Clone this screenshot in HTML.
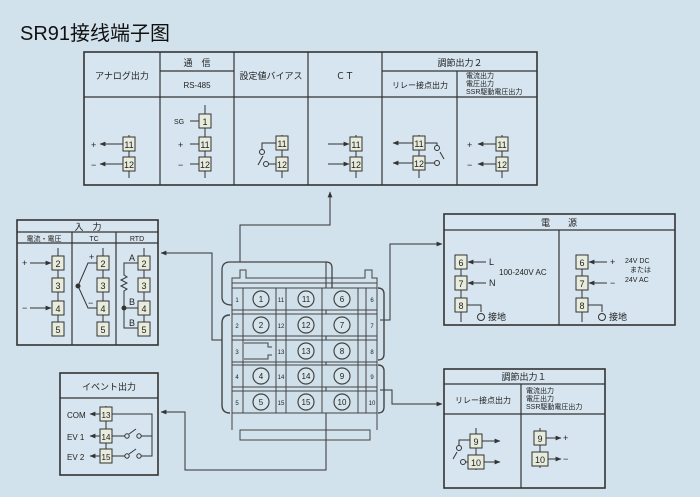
<!DOCTYPE html>
<html><head><meta charset="utf-8"><style>
html,body{margin:0;padding:0;background:#d2e2ed;}
svg{display:block;font-family:"Liberation Sans","Noto Sans CJK JP",sans-serif;}
</style></head><body>
<svg width="700" height="497" viewBox="0 0 700 497" xmlns="http://www.w3.org/2000/svg">
<defs>
<marker id="a" viewBox="0 0 10 10" refX="9" refY="5" markerWidth="6" markerHeight="6" orient="auto-start-reverse"><path d="M0,1 L10,5 L0,9 z" fill="#333"/></marker>
</defs>
<rect width="700" height="497" fill="#d2e2ed"/>
<text x="20" y="40" font-size="20" fill="#111">SR91接线端子图</text>

<g stroke="#333" fill="none" stroke-width="1.2">
<rect x="84" y="52" width="453" height="133" fill="#d6e5ef" stroke-width="1.6"/>
<line x1="84" y1="97" x2="537" y2="97"/>
<line x1="160" y1="71" x2="234" y2="71"/><line x1="382" y1="71" x2="537" y2="71"/>
<line x1="160" y1="52" x2="160" y2="185"/><line x1="234" y1="52" x2="234" y2="185"/>
<line x1="308" y1="52" x2="308" y2="185"/><line x1="382" y1="52" x2="382" y2="185"/>
<line x1="457" y1="71" x2="457" y2="185"/>
</g>
<g font-size="9" fill="#222" text-anchor="middle">
<text x="122" y="79">アナログ出力</text>
<text x="197" y="66">通　信</text><text x="197" y="88" font-size="8">RS-485</text>
<text x="271" y="79">設定値バイアス</text>
<text x="345" y="79">ＣＴ</text>
<text x="460" y="66">調節出力２</text>
<text x="420" y="88" font-size="8">リレー接点出力</text>
</g>
<g font-size="7" fill="#222">
<text x="466" y="78">電流出力</text>
<text x="466" y="86">電圧出力</text>
<text x="466" y="94">SSR駆動電圧出力</text>
</g>
<g stroke="#333" fill="none" stroke-width="1">
<line x1="129" y1="135" x2="129" y2="178"/>
<line x1="100" y1="144" x2="123" y2="144" marker-start="url(#a)"/><line x1="100" y1="164" x2="123" y2="164" marker-start="url(#a)"/>
<line x1="205" y1="105" x2="205" y2="178"/>
<line x1="190" y1="121" x2="199" y2="121"/><line x1="190" y1="144" x2="199" y2="144"/><line x1="190" y1="164" x2="199" y2="164"/>
<line x1="282" y1="135" x2="282" y2="178"/>
<path d="M276,143 H262 V150"/><circle cx="262" cy="152" r="2.5"/><line x1="258" y1="165" x2="263" y2="156"/>
<path d="M276,164 H268"/><circle cx="266" cy="164" r="2.5"/>
<line x1="356" y1="135" x2="356" y2="178"/>
<line x1="328" y1="144" x2="349" y2="144" marker-end="url(#a)"/><line x1="328" y1="164" x2="349" y2="164" marker-end="url(#a)"/>
<line x1="419" y1="135" x2="419" y2="178"/>
<line x1="393" y1="143" x2="413" y2="143" marker-start="url(#a)"/><line x1="393" y1="163" x2="413" y2="163" marker-start="url(#a)"/>
<path d="M425,143 H437 V146"/><circle cx="437" cy="148" r="2.5"/><line x1="440" y1="152" x2="444" y2="159"/>
<path d="M425,163 H435"/><circle cx="437" cy="163" r="2.5"/>
<line x1="502" y1="135" x2="502" y2="178"/>
<line x1="478" y1="144" x2="496" y2="144" marker-start="url(#a)"/><line x1="478" y1="164" x2="496" y2="164" marker-start="url(#a)"/>
</g>
<g font-size="9" fill="#222">
<g stroke="#333" fill="#e8ecdc" stroke-width="1">
<rect x="123" y="137" width="12" height="14"/><rect x="123" y="157" width="12" height="14"/>
<rect x="199" y="114" width="12" height="14"/><rect x="199" y="137" width="12" height="14"/><rect x="199" y="157" width="12" height="14"/>
<rect x="276" y="136" width="12" height="14"/><rect x="276" y="157" width="12" height="14"/>
<rect x="350" y="137" width="12" height="14"/><rect x="350" y="157" width="12" height="14"/>
<rect x="413" y="136" width="12" height="14"/><rect x="413" y="156" width="12" height="14"/>
<rect x="496" y="137" width="12" height="14"/><rect x="496" y="157" width="12" height="14"/>
</g>
<g text-anchor="middle" font-size="9">
<text x="129" y="148">11</text><text x="129" y="168">12</text>
<text x="205" y="125">1</text><text x="205" y="148">11</text><text x="205" y="168">12</text>
<text x="282" y="147">11</text><text x="282" y="168">12</text>
<text x="356" y="148">11</text><text x="356" y="168">12</text>
<text x="419" y="147">11</text><text x="419" y="167">12</text>
<text x="502" y="148">11</text><text x="502" y="168">12</text>
</g>
<text x="91" y="148">+</text><text x="91" y="168">−</text>
<text x="174" y="124" font-size="7">SG</text><text x="178" y="148">+</text><text x="178" y="168">−</text>
<text x="467" y="148">+</text><text x="467" y="168">−</text>
</g>

<g stroke="#333" fill="none" stroke-width="1">
<path d="M240,262 V225 H330 V192" marker-end="url(#a)"/>
<path d="M380,320 H390 V244 H442" marker-end="url(#a)"/>
<path d="M380,390 H392 V404 H442" marker-end="url(#a)"/>
<path d="M222,340 H212 V253 H161" marker-end="url(#a)"/>
<path d="M326,262 V470 H185 V412 H161" marker-end="url(#a)"/>
</g>

<g stroke="#444" fill="none" stroke-width="1">
<path d="M232,430 V278 H240 V270 H246 V278 H365 V270 H372 V278 H377 V430"/>
<path d="M232,305 q-10,0 -10,-8 V270 q0,-8 8,-8 H326 q6,0 6,6 V290" stroke-width="1.3"/>
<path d="M230,315 q-8,0 -8,8 V405 q0,8 8,8" stroke-width="1.4"/>
<path d="M378,288 q6,0 6,6 V354 q0,6 -6,6" stroke-width="1.4"/>
<path d="M378,365 q6,0 6,6 V407 q0,6 -6,6" stroke-width="1.4"/>
<line x1="232" y1="283" x2="377" y2="283"/>
<g fill="#cfe0ea">
<rect x="232" y="288" width="145" height="22"/><rect x="232" y="314" width="145" height="22"/>
<rect x="232" y="340" width="145" height="22"/><rect x="232" y="365" width="145" height="22"/>
<rect x="232" y="391" width="145" height="22"/>
</g>
<g>
<line x1="243" y1="288" x2="243" y2="413"/><line x1="276" y1="288" x2="276" y2="413"/>
<line x1="286" y1="288" x2="286" y2="413"/><line x1="322" y1="288" x2="322" y2="413"/>
<line x1="358" y1="288" x2="358" y2="413"/><line x1="366" y1="288" x2="366" y2="413"/>
</g>
<g stroke-width="1.2" fill="#d6e4ec">
<circle cx="261" cy="299" r="8"/><circle cx="261" cy="325" r="8"/><circle cx="261" cy="376" r="8"/><circle cx="261" cy="402" r="8"/>
<circle cx="306" cy="299" r="8"/><circle cx="306" cy="325" r="8"/><circle cx="306" cy="351" r="8"/><circle cx="306" cy="376" r="8"/><circle cx="306" cy="402" r="8"/>
<circle cx="342" cy="299" r="8"/><circle cx="342" cy="325" r="8"/><circle cx="342" cy="351" r="8"/><circle cx="342" cy="376" r="8"/><circle cx="342" cy="402" r="8"/>
</g>
<path d="M244,343 H268 V347 H272"/><path d="M244,359 H268 V355 H272"/>
<rect x="240" y="430" width="130" height="10"/>
</g>
<g font-size="8" fill="#222" text-anchor="middle">
<text x="261" y="302">1</text><text x="261" y="328">2</text><text x="261" y="379">4</text><text x="261" y="405">5</text>
<text x="306" y="302">11</text><text x="306" y="328">12</text><text x="306" y="354">13</text><text x="306" y="379">14</text><text x="306" y="405">15</text>
<text x="342" y="302">6</text><text x="342" y="328">7</text><text x="342" y="354">8</text><text x="342" y="379">9</text><text x="342" y="405">10</text>
<g font-size="6"><text x="237" y="302">1</text><text x="237" y="328">2</text><text x="237" y="354">3</text><text x="237" y="379">4</text><text x="237" y="405">5</text>
<text x="281" y="302">11</text><text x="281" y="328">12</text><text x="281" y="354">13</text><text x="281" y="379">14</text><text x="281" y="405">15</text>
<text x="372" y="302">6</text><text x="372" y="328">7</text><text x="372" y="354">8</text><text x="372" y="379">9</text><text x="372" y="405">10</text></g>
</g>

<g stroke="#333" fill="none" stroke-width="1.2">
<rect x="17" y="220" width="141" height="125" fill="#d6e5ef" stroke-width="1.6"/>
<line x1="17" y1="232" x2="158" y2="232"/><line x1="17" y1="243" x2="158" y2="243"/>
<line x1="72" y1="232" x2="72" y2="345"/><line x1="116" y1="232" x2="116" y2="345"/>
</g>
<g font-size="8" fill="#222" text-anchor="middle">
<text x="88" y="230" font-size="9">入　力</text>
<text x="44" y="241" font-size="7">電流・電圧</text><text x="94" y="241" font-size="7">TC</text><text x="137" y="241" font-size="7">RTD</text>
</g>
<g stroke="#333" fill="none" stroke-width="1">
<line x1="58" y1="248" x2="58" y2="335"/><line x1="103" y1="248" x2="103" y2="335"/><line x1="144" y1="248" x2="144" y2="335"/>
<line x1="30" y1="263" x2="51" y2="263" marker-end="url(#a)"/><line x1="30" y1="308" x2="51" y2="308" marker-end="url(#a)"/>
<path d="M97,263 H88 L78,286 L88,308 H97"/><circle cx="78" cy="286" r="2" fill="#333"/>
<path d="M138,263 H124 V275 l3,2 -6,3 6,3 -6,3 6,3 -3,2 V308 M124,298 V328 H138 M124,308 H138"/><circle cx="124" cy="308" r="2" fill="#333"/>
</g>
<g font-size="9" fill="#222">
<g stroke="#333" fill="#e8ecdc" stroke-width="1">
<rect x="52" y="256" width="12" height="14"/><rect x="52" y="278" width="12" height="14"/><rect x="52" y="301" width="12" height="14"/><rect x="52" y="322" width="12" height="14"/>
<rect x="97" y="256" width="12" height="14"/><rect x="97" y="278" width="12" height="14"/><rect x="97" y="301" width="12" height="14"/><rect x="97" y="322" width="12" height="14"/>
<rect x="138" y="256" width="12" height="14"/><rect x="138" y="278" width="12" height="14"/><rect x="138" y="301" width="12" height="14"/><rect x="138" y="322" width="12" height="14"/>
</g>
<g text-anchor="middle">
<text x="58" y="267">2</text><text x="58" y="289">3</text><text x="58" y="312">4</text><text x="58" y="333">5</text>
<text x="103" y="267">2</text><text x="103" y="289">3</text><text x="103" y="312">4</text><text x="103" y="333">5</text>
<text x="144" y="267">2</text><text x="144" y="289">3</text><text x="144" y="312">4</text><text x="144" y="333">5</text>
</g>
<text x="22" y="266">+</text><text x="22" y="311">−</text>
<text x="89" y="260">+</text><text x="88" y="306">−</text>
<text x="129" y="261">A</text><text x="129" y="305">B</text><text x="129" y="326">B</text>
</g>

<g stroke="#333" fill="none" stroke-width="1.2">
<rect x="60" y="373" width="98" height="102" fill="#d6e5ef" stroke-width="1.6"/>
<line x1="60" y1="398" x2="158" y2="398"/>
</g>
<text x="109" y="390" font-size="9" fill="#222" text-anchor="middle">イベント出力</text>
<g stroke="#333" fill="none" stroke-width="1">
<line x1="106" y1="406" x2="106" y2="462"/>
<line x1="90" y1="414" x2="100" y2="414" marker-start="url(#a)"/><line x1="90" y1="436" x2="100" y2="436" marker-start="url(#a)"/><line x1="90" y1="456" x2="100" y2="456" marker-start="url(#a)"/>
<path d="M112,414 H152 V456 H141"/>
<path d="M112,436 H125"/><circle cx="127" cy="436" r="2.2"/><line x1="129" y1="434" x2="136" y2="429"/><circle cx="139" cy="436" r="2.2"/><line x1="141" y1="436" x2="152" y2="436"/>
<path d="M112,456 H125"/><circle cx="127" cy="456" r="2.2"/><line x1="129" y1="454" x2="136" y2="449"/><circle cx="139" cy="456" r="2.2"/>
</g>
<g font-size="9" fill="#222">
<g stroke="#333" fill="#e8ecdc" stroke-width="1">
<rect x="100" y="407" width="12" height="14"/><rect x="100" y="429" width="12" height="14"/><rect x="100" y="449" width="12" height="14"/>
</g>
<g text-anchor="middle" font-size="8"><text x="106" y="418">13</text><text x="106" y="440">14</text><text x="106" y="460">15</text></g>
<text x="67" y="418" font-size="8">COM</text><text x="67" y="440" font-size="8">EV 1</text><text x="67" y="460" font-size="8">EV 2</text>
</g>

<g stroke="#333" fill="none" stroke-width="1.2">
<rect x="444" y="214" width="231" height="111" fill="#d6e5ef" stroke-width="1.6"/>
<line x1="444" y1="230" x2="675" y2="230"/><line x1="559" y1="230" x2="559" y2="325"/>
</g>
<text x="559" y="226" font-size="9" fill="#222" text-anchor="middle">電　　源</text>
<g stroke="#333" fill="none" stroke-width="1">
<line x1="461" y1="255" x2="461" y2="322"/><line x1="582" y1="255" x2="582" y2="322"/>
<line x1="468" y1="262" x2="486" y2="262" marker-start="url(#a)"/><line x1="468" y1="283" x2="486" y2="283" marker-start="url(#a)"/>
<path d="M467,305 H481 V312"/><circle cx="481" cy="317" r="3.5"/>
<line x1="589" y1="262" x2="607" y2="262" marker-start="url(#a)"/><line x1="589" y1="283" x2="607" y2="283" marker-start="url(#a)"/>
<path d="M588,305 H602 V312"/><circle cx="602" cy="317" r="3.5"/>
</g>
<g font-size="9" fill="#222">
<g stroke="#333" fill="#e8ecdc" stroke-width="1">
<rect x="455" y="255" width="12" height="14"/><rect x="455" y="276" width="12" height="14"/><rect x="455" y="298" width="12" height="14"/>
<rect x="576" y="255" width="12" height="14"/><rect x="576" y="276" width="12" height="14"/><rect x="576" y="298" width="12" height="14"/>
</g>
<g text-anchor="middle"><text x="461" y="266">6</text><text x="461" y="287">7</text><text x="461" y="309">8</text>
<text x="582" y="266">6</text><text x="582" y="287">7</text><text x="582" y="309">8</text></g>
<text x="489" y="265">L</text><text x="489" y="286">N</text>
<text x="499" y="275" font-size="8">100-240V AC</text>
<text x="488" y="320" font-size="9">接地</text><text x="609" y="320" font-size="9">接地</text>
<text x="610" y="265">+</text><text x="610" y="286">−</text>
<g font-size="7"><text x="625" y="263">24V DC</text><text x="630" y="272">または</text><text x="625" y="282">24V AC</text></g>
</g>

<g stroke="#333" fill="none" stroke-width="1.2">
<rect x="444" y="369" width="161" height="119" fill="#d6e5ef" stroke-width="1.6"/>
<line x1="444" y1="384" x2="605" y2="384"/><line x1="444" y1="414" x2="605" y2="414"/>
<line x1="521" y1="384" x2="521" y2="488"/>
</g>
<g font-size="9" fill="#222">
<text x="524" y="380" text-anchor="middle">調節出力１</text>
<text x="455" y="403" font-size="8">リレー接点出力</text>
<g font-size="7"><text x="526" y="393">電流出力</text><text x="526" y="401">電圧出力</text><text x="526" y="409">SSR駆動電圧出力</text></g>
</g>
<g stroke="#333" fill="none" stroke-width="1">
<line x1="476" y1="428" x2="476" y2="470"/><line x1="540" y1="428" x2="540" y2="468"/>
<line x1="482" y1="441" x2="500" y2="441" marker-end="url(#a)"/><line x1="484" y1="462" x2="500" y2="462" marker-end="url(#a)"/>
<path d="M470,440 H459 V445"/><circle cx="459" cy="448" r="2.5"/><line x1="457" y1="452" x2="453" y2="459"/>
<path d="M468,462 H466"/><circle cx="463" cy="462" r="2.5"/>
<line x1="546" y1="438" x2="561" y2="438" marker-end="url(#a)"/><line x1="548" y1="459" x2="561" y2="459" marker-end="url(#a)"/>
</g>
<g font-size="9" fill="#222">
<g stroke="#333" fill="#e8ecdc" stroke-width="1">
<rect x="470" y="434" width="12" height="14"/><rect x="468" y="455" width="16" height="14"/>
<rect x="534" y="431" width="12" height="14"/><rect x="532" y="452" width="16" height="14"/>
</g>
<g text-anchor="middle"><text x="476" y="445">9</text><text x="476" y="466">10</text><text x="540" y="442">9</text><text x="540" y="463">10</text></g>
<text x="563" y="441">+</text><text x="563" y="462">−</text>
</g>
</svg>
</body></html>
